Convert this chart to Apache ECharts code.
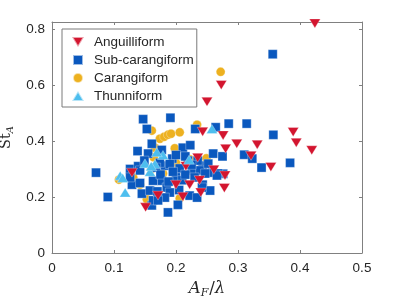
<!DOCTYPE html>
<html><head><meta charset="utf-8">
<script src="https://cdn.jsdelivr.net/npm/echarts@6/dist/echarts.min.js"></script>
<style>html,body{margin:0;padding:0;background:#fff}#c{width:399px;height:299px}</style>
</head><body><div id="c"></div>
<script>
const seriesNames = ['Anguilliform', 'Sub-carangiform', 'Carangiform', 'Thunniform'];
const xTicks = [0, 0.1, 0.2, 0.3, 0.4, 0.5];
const yTicks = [0, 0.2, 0.4, 0.6, 0.8];

const anguilliform = [
  [0.424,0.82],[0.273,0.60],[0.250,0.54],[0.243,0.433],[0.276,0.42],[0.298,0.39],
  [0.331,0.387],[0.389,0.432],[0.394,0.394],[0.419,0.367],[0.280,0.372],[0.321,0.347],
  [0.353,0.307],[0.279,0.277],[0.278,0.232],[0.261,0.297],[0.240,0.216],[0.151,0.163],
  [0.200,0.244],[0.222,0.244],[0.211,0.201],[0.238,0.26],[0.171,0.205],[0.235,0.34],
  [0.129,0.287],[0.216,0.31]
];
const subCarangiform = [
  [0.356,0.71],[0.147,0.478],[0.191,0.483],[0.153,0.443],[0.264,0.449],[0.285,0.462],
  [0.314,0.462],[0.357,0.422],[0.384,0.322],[0.138,0.364],[0.155,0.355],[0.211,0.376],
  [0.223,0.385],[0.177,0.368],[0.260,0.355],[0.275,0.345],[0.310,0.351],[0.323,0.337],
  [0.338,0.305],[0.276,0.283],[0.258,0.287],[0.268,0.284],[0.243,0.312],[0.243,0.244],
  [0.071,0.287],[0.090,0.200],[0.126,0.300],[0.139,0.310],[0.129,0.244],[0.142,0.250],
  [0.145,0.212],[0.158,0.223],[0.161,0.170],[0.163,0.188],[0.182,0.312],[0.194,0.337],
  [0.206,0.302],[0.226,0.295],[0.239,0.295],[0.252,0.319],[0.235,0.330],[0.219,0.330],
  [0.177,0.258],[0.185,0.234],[0.190,0.216],[0.182,0.198],[0.171,0.188],[0.187,0.145],
  [0.203,0.172],[0.222,0.205],[0.234,0.198],[0.255,0.223],[0.242,0.234],[0.266,0.277],
  [0.247,0.284],[0.231,0.443],[0.126,0.27],[0.142,0.295],[0.163,0.258],[0.174,0.322],
  [0.19,0.318],[0.161,0.39],[0.17,0.22],[0.2,0.27],[0.21,0.26],[0.195,0.29],
  [0.215,0.28],[0.23,0.27],[0.205,0.225],[0.149,0.33],[0.168,0.305],[0.175,0.28],
  [0.188,0.255],[0.225,0.315],[0.2,0.35],[0.215,0.345]
];
const carangiform = [
  [0.272,0.647],[0.234,0.458],[0.161,0.437],[0.174,0.408],[0.181,0.415],[0.187,0.422],
  [0.192,0.426],[0.206,0.431],[0.198,0.374],[0.166,0.376],[0.249,0.338],[0.108,0.262],
  [0.131,0.27],[0.142,0.244],[0.153,0.192],[0.179,0.284],[0.164,0.342],[0.2,0.322],
  [0.206,0.195],[0.222,0.335],[0.16,0.3]
];
const thunniform = [
  [0.258,0.443],[0.179,0.35],[0.150,0.32],[0.166,0.318],[0.158,0.29],[0.110,0.276],
  [0.114,0.268],[0.118,0.216],[0.221,0.333],[0.169,0.36],[0.160,0.31]
];

const downTri = 'path://M0,0L12,0L6,10Z';
const upTri = 'path://M6,0L12,10L0,10Z';
const square = 'path://M0,0L10,0L10,10L0,10Z';
const circle = 'circle';
const axisGray = '#808080';
const labelColor = '#262626';
const font = 'Liberation Sans, Arial, sans-serif';

function mk(name, data, symbol, size, color) {
  return { name, type: 'scatter', data, symbol, symbolSize: size, clip: false,
    itemStyle: { color, opacity: 1, borderColor: 'rgba(255,255,255,0.6)', borderWidth: 0.5 } };
}

const axisLine = { show: true, onZero: false, lineStyle: { color: axisGray, width: 1 } };
const axisTick = { show: true, inside: true, length: 3, lineStyle: { color: axisGray } };

const chart = echarts.init(document.getElementById('c'), null, { renderer: 'canvas' });
chart.setOption({
  animation: false,
  backgroundColor: '#fff',
  grid: { left: 52, right: 37, top: 22, bottom: 46, containLabel: false, outerBoundsMode: 'none' },
  legend: {
    data: [
      { name: seriesNames[0], icon: downTri },
      { name: seriesNames[1], icon: square },
      { name: seriesNames[2], icon: circle },
      { name: seriesNames[3], icon: upTri }
    ],
    orient: 'vertical', left: 62, top: 29,
    itemWidth: 22, itemHeight: 10, itemGap: 2,
    padding: [5, 3, 3, 9],
    backgroundColor: '#fff', borderColor: '#7a7a7a', borderWidth: 1,
    textStyle: { fontFamily: font, fontSize: 13.5, color: labelColor, lineHeight: 16 }
  },
  xAxis: [{
    type: 'value', min: xTicks[0], max: xTicks[xTicks.length - 1], interval: 0.1,
    name: '{i|A}{s|F}{n|/}{i|λ}', nameLocation: 'middle', nameGap: 23,
    nameTextStyle: { rich: {
      i: { fontFamily: 'DejaVu Serif', fontStyle: 'italic', fontSize: 16.5, color: labelColor },
      n: { fontFamily: 'DejaVu Serif', fontSize: 16.5, color: labelColor },
      s: { fontFamily: 'DejaVu Serif', fontStyle: 'italic', fontSize: 11, color: labelColor, padding: [9, 1, 0, 0] }
    } },
    axisLine, axisTick,
    axisLabel: { fontFamily: font, fontSize: 13.5, color: labelColor, margin: 8,
      formatter: v => String(+v.toFixed(1)) },
    splitLine: { show: false }
  }, {
    type: 'value', position: 'top', min: 0, max: 0.5, interval: 0.1,
    axisLine, axisTick,
    axisLabel: { show: false }, splitLine: { show: false }
  }],
  yAxis: [{
    type: 'value', min: yTicks[0], max: 0.825, interval: 0.2,
    name: '{n|St}{s|A}', nameLocation: 'middle', nameGap: 30,
    nameTextStyle: { rich: {
      n: { fontFamily: 'DejaVu Serif', fontSize: 14.5, color: labelColor },
      s: { fontFamily: 'DejaVu Serif', fontStyle: 'italic', fontSize: 10, color: labelColor, padding: [8, 0, 0, 0] }
    } },
    axisLine, axisTick,
    axisLabel: { fontFamily: font, fontSize: 13.5, color: labelColor, margin: 7, showMaxLabel: false,
      formatter: v => String(+v.toFixed(1)) },
    splitLine: { show: false }
  }, {
    type: 'value', position: 'right', min: 0, max: 0.825, interval: 0.2,
    axisLine, axisTick,
    axisLabel: { show: false }, splitLine: { show: false }
  }],
  series: [
    mk('Carangiform', carangiform, circle, 9, '#EDB120'),
    mk('Sub-carangiform', subCarangiform, square, 9, '#0A58BE'),
    mk('Anguilliform', anguilliform, downTri, [11, 9], '#D3152F'),
    mk('Thunniform', thunniform, upTri, [11, 9], '#4DBEEE')
  ]
});
</script></body></html>
